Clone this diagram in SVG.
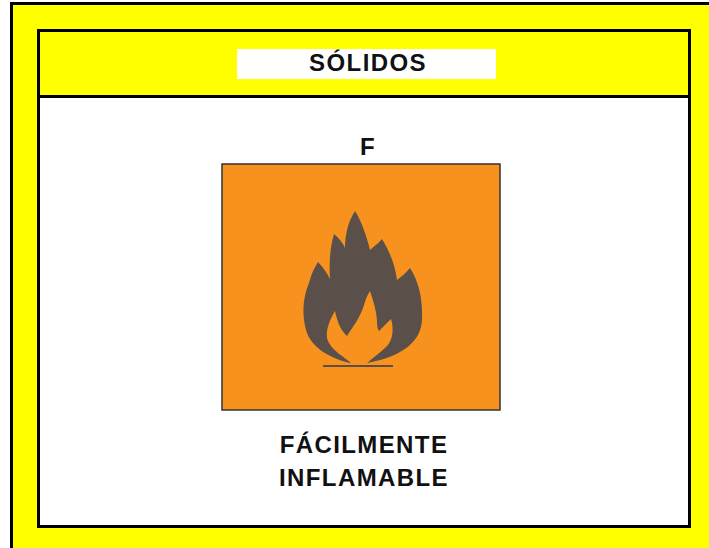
<svg xmlns="http://www.w3.org/2000/svg" width="709" height="548" viewBox="0 0 709 548">
  <style>
    .lbl { font-family: "Liberation Sans", Arial, sans-serif; font-weight: bold; font-size: 24px; letter-spacing: 1.4px; fill: #111; text-anchor: middle; }
    .frame { fill: none; stroke: #000; stroke-width: 3; }
    .orange { fill: #F7921E; }
    .flame { fill: #5A5049; }
  </style>
  <rect x="0" y="0" width="709" height="548" fill="#fff"/>
  <g id="outer-panel">
    <rect x="10" y="2" width="699" height="546" fill="#ffff00"/>
    <path d="M11.5,548 V3.5 H709" class="frame"/>
  </g>
  <g id="inner-panel">
    <rect x="38.5" y="96.5" width="651" height="430" fill="#fff"/>
    <rect x="38.5" y="30.5" width="651" height="496" class="frame"/>
    <line x1="38.5" y1="96.5" x2="689.5" y2="96.5" stroke="#000" stroke-width="3"/>
  </g>
  <g id="header">
    <rect x="237" y="49" width="259" height="30" fill="#fff"/>
    <text x="368" y="71" class="lbl">SÓLIDOS</text>
  </g>
  <g id="symbol-code">
    <text x="368" y="155" class="lbl">F</text>
  </g>
  <g id="pictogram">
    <rect x="222" y="164" width="278" height="246" class="orange" stroke="#333" stroke-width="1.5"/>
    <path class="flame" d="M350,363 C330,358 311,348 306,330 C301,312 304,295 309,283 C311,275 314,268 318,262 C323,267 327,273 330,279 C329,262 330,248 334,234 C339,238 343,243 345,248 C345,235 348,222 355,211 C362,222 367,238 370,250 C373,247 378,244 382,239 C390,252 395,265 397,280 C401,277 406,273 410,268 C419,282 423,300 422,320 C421,340 405,356 367,363 Z"/>
    <path class="orange" d="M352,364 C345,357 330,350 327,338 C326,328 330,320 335,311 C337,320 340,330 347,336 C352,328 360,318 364,305 C366,298 368,294 370,291 C373,300 377,312 377,322 C377,327 378,330 379,331 C383,327 387,323 391,319 C394,328 393,340 387,346 C380,353 372,358 366,364 Z"/>
    <line x1="323" y1="366" x2="393" y2="366" stroke="#5A5049" stroke-width="2"/>
  </g>
  <g id="caption">
    <text x="364" y="453" class="lbl">FÁCILMENTE</text>
    <text x="364" y="486" class="lbl">INFLAMABLE</text>
  </g>
</svg>
